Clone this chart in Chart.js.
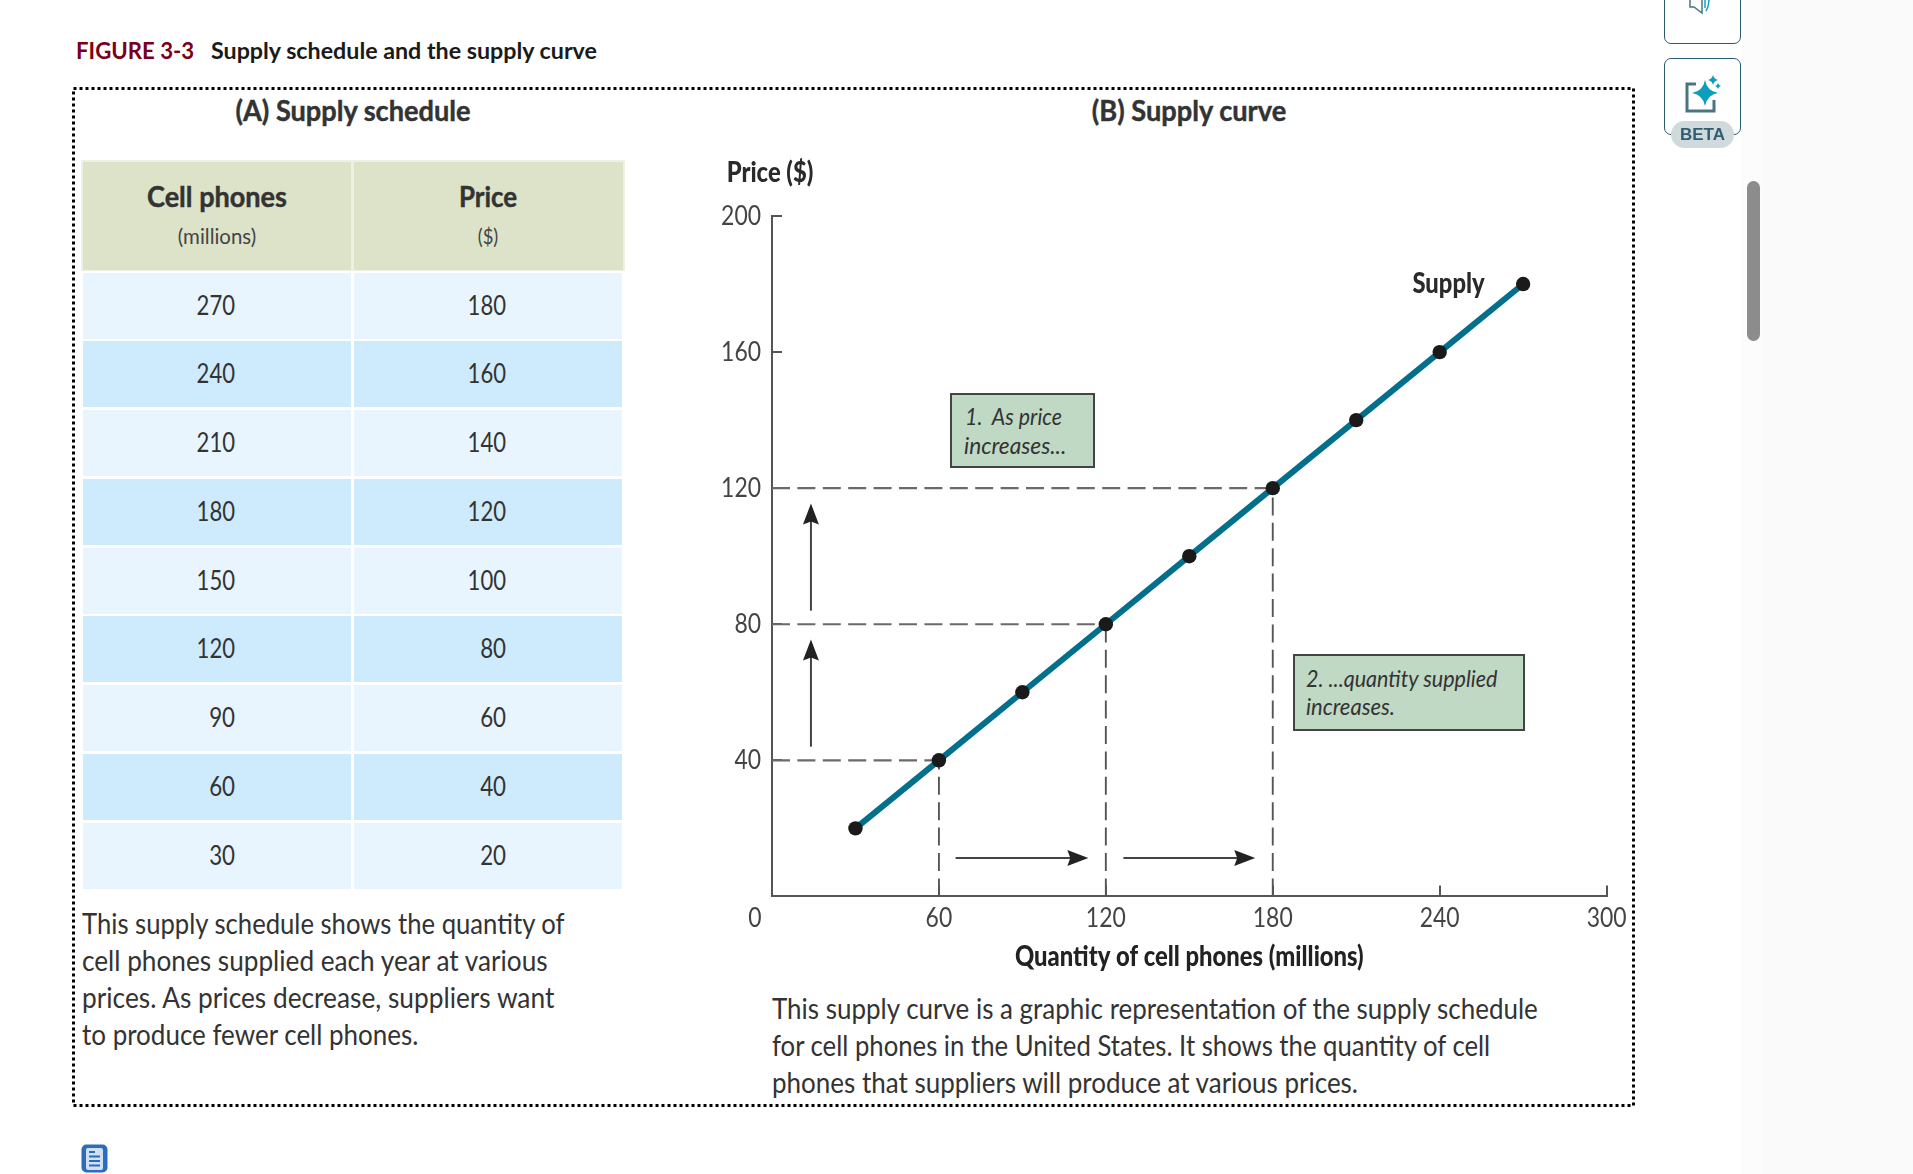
<!DOCTYPE html>
<html><head><meta charset="utf-8">
<script src="https://cdn.jsdelivr.net/npm/chart.js@4/dist/chart.umd.js"></script>
<style>
html,body{margin:0;padding:0;background:#fff;overflow:hidden}
#page{position:relative;width:1913px;height:1174px;overflow:hidden;font-family:Lato,sans-serif;color:#333}
#page>*{position:absolute}
.t{white-space:nowrap;line-height:1;position:absolute}
.cell{position:absolute}
canvas{position:absolute;left:0;top:0}
.note{background:#bfd9c5;border:2px solid #444;box-sizing:border-box}
.note span{font-style:italic;font-size:24px;color:#333}
.b{font-weight:700;-webkit-text-stroke:.45px #333}
</style></head><body>
<div id="page">
  <div style="left:1742px;top:0;width:21px;height:1174px;background:#fcfcfc"></div>
  <div style="left:1763px;top:0;width:150px;height:1174px;background:#fafafa"></div>
  <div style="left:1747px;top:181px;width:13px;height:160px;border-radius:7px;background:#8c8c8c"></div>
  <div class="t" data-a="l" data-w="118" style="left:76px;top:50px;font:700 22px Lato,sans-serif;color:#7a0019">FIGURE 3-3</div>
  <div class="t" data-a="l" data-w="386" style="left:211px;top:50px;font:700 23px Lato,sans-serif;color:#1a1a1a">Supply schedule and the supply curve</div>
  <svg style="left:0;top:0" width="1913" height="1174">
    <rect x="73.5" y="88.5" width="1560" height="1017" fill="none" stroke="#000" stroke-width="3" stroke-dasharray="3 3"/>
  </svg>
  <div class="t b" data-a="c" data-w="235" style="left:352.500px;top:108.600px;font-size:29px">(A) Supply schedule</div>
  <div class="t b" data-a="c" data-w="194" style="left:1189px;top:108.600px;font-size:29px">(B) Supply curve</div>
  <div id="table" style="left:0;top:0"></div>
  <div class="t" data-a="l" data-w="483" style="left:82px;top:921.600px;font-size:29px">This supply schedule shows the quantity of</div>
  <div class="t" data-a="l" data-w="466" style="left:82px;top:958.600px;font-size:29px">cell phones supplied each year at various</div>
  <div class="t" data-a="l" data-w="472" style="left:82px;top:995.600px;font-size:29px">prices. As prices decrease, suppliers want</div>
  <div class="t" data-a="l" data-w="336" style="left:82px;top:1032.600px;font-size:29px">to produce fewer cell phones.</div>
  <div class="t" data-a="l" data-w="766" style="left:772px;top:1006.600px;font-size:29px">This supply curve is a graphic representation of the supply schedule</div>
  <div class="t" data-a="l" data-w="718" style="left:772px;top:1043.600px;font-size:29px">for cell phones in the United States. It shows the quantity of cell</div>
  <div class="t" data-a="l" data-w="586" style="left:772px;top:1080.600px;font-size:29px">phones that suppliers will produce at various prices.</div>
  <canvas id="chart" width="1913" height="1174" style="width:1913px;height:1174px"></canvas>
  <div class="note" style="left:950px;top:393px;width:145px;height:75px"><span class="t" data-a="l" data-w="97" style="left:13px;top:21px">1.&nbsp; As price</span><span class="t" data-a="l" data-w="102" style="left:12px;top:50px">increases...</span></div>
  <div class="note" style="left:1293px;top:654px;width:232px;height:77px"><span class="t" data-a="l" data-w="191" style="left:11px;top:22px">2. ...quantity supplied</span><span class="t" data-a="l" data-w="89" style="left:11px;top:50px">increases.</span></div>
  <div style="left:1664px;top:-20px;width:75px;height:62px;border:1.5px solid #2a5a6e;border-radius:7px;box-sizing:content-box"></div>
  <svg style="left:1680px;top:0" width="40" height="16"><path d="M10 0V7H14L22 13V0" fill="none" stroke="#4a7484" stroke-width="1.5"/><path d="M25 0V8M29 0Q29 6 26 11" fill="none" stroke="#1aa0bd" stroke-width="1.5"/></svg>
  <div style="left:1664px;top:58px;width:75px;height:75px;border:1.5px solid #2a5a6e;border-radius:7px"></div>
  <svg style="left:1680px;top:70px" width="45" height="46">
    <path d="M16 14H7V41H34V30" fill="none" stroke="#4a7484" stroke-width="3"/>
    <path d="M25 10Q27 21 38 23Q27 25 25 36Q23 25 12 23Q23 21 25 10Z" fill="#0b9fbd"/>
    <path d="M33 5Q34 9 38 10Q34 11 33 15Q32 11 28 10Q32 9 33 5Z" fill="#0b9fbd"/>
    <path d="M38 13Q38.6 15.4 41 16Q38.6 16.6 38 19Q37.4 16.6 35 16Q37.4 15.4 38 13Z" fill="#0b9fbd"/>
  </svg>
  <div class="t" style="left:1671px;top:121px;width:63px;height:27px;border-radius:14px;background:#d0dadd;color:#2f5d72;font:700 17px/27px 'Liberation Sans',sans-serif;text-align:center">BETA</div>
  <svg style="left:80px;top:1143px" width="29" height="31">
    <rect x="1.5" y="1.5" width="26" height="28" rx="5" fill="#2c6dbb"/>
    <rect x="6" y="5" width="17" height="22" rx="2" fill="#cfe0f3"/>
    <path d="M9 9H15M9 13.500H20M9 18H20M9 22.500H20" stroke="#2c6dbb" stroke-width="1.800"/>
  </svg>
</div>
<script>
const quantities = [270, 240, 210, 180, 150, 120, 90, 60, 30];
const prices = [180, 160, 140, 120, 100, 80, 60, 40, 20];
const xTicks = [0, 60, 120, 180, 240, 300];
const yTicks = [40, 80, 120, 160, 200];
const hGuides = [[[0, 40], [60, 40]], [[0, 80], [120, 80]], [[0, 120], [180, 120]]];
const vGuides = [[[60, 0], [60, 40]], [[120, 0], [120, 80]], [[180, 0], [180, 120]]];
const arrows = [[14, 44, 14, 75.5], [14, 84, 14, 115.5], [66, 11.3, 113.7, 11.3], [126.3, 11.3, 173.7, 11.3]];
const tableHead = ["Cell phones", "Price"];
const tableSub = ["(millions)", "($)"];

// table
const tb = document.getElementById('table');
function cell(x, y, w, h, bg) { const d = document.createElement('div'); d.className = 'cell'; d.style.cssText = `left:${x}px;top:${y}px;width:${w}px;height:${h}px;background:${bg}`; tb.appendChild(d); }
function text(x, y, s, css, a, w, cls) { const d = document.createElement('div'); d.className = 't ' + (cls || ''); d.dataset.a = a; d.dataset.w = w; d.textContent = s; d.style.cssText = `left:${x}px;top:${y}px;${css}`; tb.appendChild(d); }
cell(81, 160, 544, 111, '#eef1e2');
cell(83, 162, 268, 108, '#dde3c9'); cell(354, 162, 269, 108, '#dde3c9');
text(217, 194.6, tableHead[0], 'font-size:29px', 'c', 140, 'b');
text(488, 194.6, tableHead[1], 'font-size:29px', 'c', 58, 'b');
text(217, 236, tableSub[0], 'font-size:22px;color:#444', 'c', 78);
text(488, 236, tableSub[1], 'font-size:22px;color:#444', 'c', 21);
const numW = v => String(v).length * 12.8;
quantities.forEach((q, i) => {
  const y = 272.5 + i * 68.75, bg = i % 2 ? '#ceebfd' : '#e8f5fe';
  cell(83, y, 268, 66, bg); cell(354, y, 268, 66, bg);
  text(235, y + 31, q, 'font-size:27px', 'r', numW(q));
  text(506, y + 31, prices[i], 'font-size:27px', 'r', numW(prices[i]));
});
// condense html text to the reference's measured widths
document.querySelectorAll('[data-w]').forEach(el => {
  const k = el.dataset.w / el.offsetWidth, a = el.dataset.a;
  if (a === 'c') { el.style.transform = `translate(-50%,-50%) scaleX(${k})`; }
  else if (a === 'r') { el.style.transformOrigin = 'right center'; el.style.transform = `translate(-100%,-50%) scaleX(${k})`; }
  else { el.style.transformOrigin = 'left center'; el.style.transform = `translateY(-50%) scaleX(${k})`; }
});

const face = 'Lato, sans-serif';
const pts = (a) => a.map(p => ({ x: p[0], y: p[1] }));
const hg = (a) => ({ type: 'line', data: pts(a), borderColor: '#6a6a6a', borderWidth: 2.2, borderDash: [18, 7.4], pointRadius: 0, fill: false, order: 5 });
const vg = (a) => ({ type: 'line', data: pts(a), borderColor: '#555', borderWidth: 1.9, borderDash: [18, 7.4], pointRadius: 0, fill: false, order: 5 });

const overlay = {
  id: 'overlay',
  afterDatasetsDraw(c) {
    const ctx = c.ctx, X = c.scales.x, Y = c.scales.y;
    ctx.save();
    ctx.fillStyle = '#222'; ctx.strokeStyle = '#444'; ctx.lineWidth = 2;
    arrows.forEach(a => {
      const x1 = X.getPixelForValue(a[0]), y1 = Y.getPixelForValue(a[1]), x2 = X.getPixelForValue(a[2]), y2 = Y.getPixelForValue(a[3]);
      const ang = Math.atan2(y2 - y1, x2 - x1);
      ctx.beginPath(); ctx.moveTo(x1, y1); ctx.lineTo(x2 - 12 * Math.cos(ang), y2 - 12 * Math.sin(ang)); ctx.stroke();
      ctx.save(); ctx.translate(x2, y2); ctx.rotate(ang);
      ctx.beginPath(); ctx.moveTo(0, 0); ctx.lineTo(-21, -8); ctx.lineTo(-18, 0); ctx.lineTo(-21, 8); ctx.closePath(); ctx.fill();
      ctx.restore();
    });
    ctx.fillStyle = '#444'; ctx.font = '27px ' + face; ctx.textAlign = 'center'; ctx.textBaseline = 'middle';
    ctx.fillText('0', X.getPixelForValue(0) - 17, 918);
    ctx.fillStyle = '#2a2a2a'; ctx.font = '900 28px ' + face;
    ctx.fillText('Price ($)', 770, 173);
    ctx.fillText('Supply', X.getPixelForValue(243.2), Y.getPixelForValue(180));
    ctx.restore();
  }
};

// all canvas text in this figure is set in a condensed width
const canvas = document.getElementById('chart');
const c2d = canvas.getContext('2d');
const rawFill = c2d.fillText.bind(c2d);
c2d.fillText = function (s, x, y) { c2d.save(); c2d.translate(x, y); c2d.scale(0.85, 1); rawFill(s, 0, 0); c2d.restore(); };

new Chart(canvas, {
  type: 'line',
  data: {
    datasets: [
      { type: 'line', data: quantities.map((q, i) => ({ x: q, y: prices[i] })), borderColor: '#02708c', borderWidth: 6, pointRadius: 7.200, pointHoverRadius: 7.200, pointBackgroundColor: '#1a1a1a', pointBorderWidth: 0, tension: 0, order: 1 },
      ...hGuides.map(hg), ...vGuides.map(vg)
    ]
  },
  options: {
    responsive: false, animation: false, events: [],
    layout: { padding: { left: 0, top: 216, right: 306.4, bottom: 0 } },
    plugins: { legend: { display: false }, tooltip: { enabled: false }, title: { display: false } },
    scales: {
      x: {
        type: 'linear', min: 0, max: 300,
        afterBuildTicks: s => { s.ticks = xTicks.map(v => ({ value: v })); },
        ticks: { color: '#444', font: { family: face, size: 27 }, padding: 17, maxRotation: 0, autoSkip: false, callback: v => v === 0 ? '' : String(v) },
        grid: { display: true, drawOnChartArea: false, drawTicks: true, tickLength: -11, color: '#555', lineWidth: 2 },
        border: { display: true, color: '#555', width: 2 },
        title: { display: true, text: 'Quantity of cell phones (millions)', color: '#222', font: { family: face, size: 28, weight: '900' }, padding: { top: 0, bottom: 200 } },
        afterFit: s => { s.height = 1174 - 896.4; }
      },
      y: {
        type: 'linear', min: 0, max: 200,
        afterBuildTicks: s => { s.ticks = yTicks.map(v => ({ value: v })); },
        ticks: { color: '#444', font: { family: face, size: 27 }, padding: 21, autoSkip: false },
        grid: { display: true, drawOnChartArea: false, drawTicks: true, tickLength: -10, color: '#555', lineWidth: 2 },
        border: { display: true, color: '#555', width: 2 },
        afterFit: s => { s.width = 772; }
      }
    }
  },
  plugins: [overlay]
});
</script>
</body></html>
